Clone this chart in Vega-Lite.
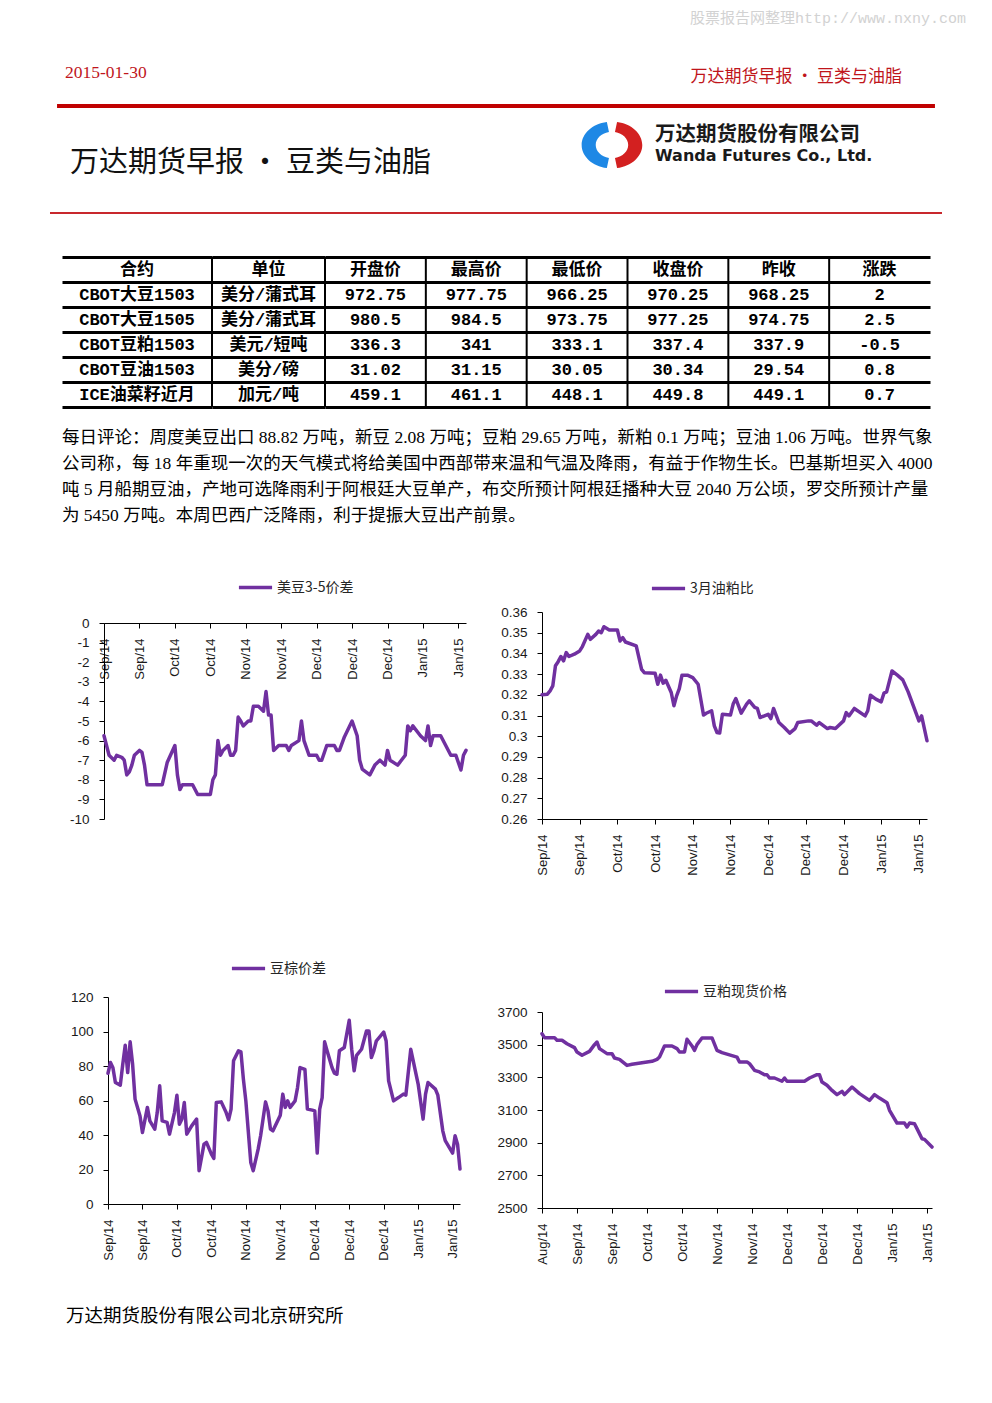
{
"$schema": "https://vega.github.io/schema/vega-lite/v6.json",
"background": "white",
"padding": 0,
"spacing": 0,
"bounds": "full",
"config": {
  "view": {"stroke": null},
  "axis": {"labelFont": "Liberation Sans", "labelColor": "#1a1a1a", "domainColor": "#000000", "tickColor": "#000000", "domainWidth": 1, "tickWidth": 1, "grid": false},
  "legend": {"labelFont": "Noto Sans CJK SC", "labelFontSize": 14, "labelColor": "#262626", "symbolType": "stroke", "symbolStrokeWidth": 3.5, "symbolSize": 1100, "labelOffset": 3, "padding": 0}
},
"resolve": {"scale": {"x": "independent", "y": "independent", "color": "independent"}, "legend": {"color": "independent"}},
"datasets": {
  "hdr": [
    {"k": "wm", "t": "股票报告网整理http://www.nxny.com"},
    {"k": "date", "t": "2015-01-30"},
    {"k": "top", "t": "万达期货早报 • 豆类与油脂"},
    {"k": "title", "t": "万达期货早报 • 豆类与油脂"},
    {"k": "cn", "t": "万达期货股份有限公司"},
    {"k": "en", "t": "Wanda Futures Co., Ltd."},
    {"k": "rule", "t": ""},
    {"k": "logo", "t": ""}
  ],
  "tbl": [
    {"r": 0, "合约": "合约", "单位": "单位", "开盘价": "开盘价", "最高价": "最高价", "最低价": "最低价", "收盘价": "收盘价", "昨收": "昨收", "涨跌": "涨跌"},
    {"r": 1, "合约": "CBOT大豆1503", "单位": "美分/蒲式耳", "开盘价": "972.75", "最高价": "977.75", "最低价": "966.25", "收盘价": "970.25", "昨收": "968.25", "涨跌": "2"},
    {"r": 2, "合约": "CBOT大豆1505", "单位": "美分/蒲式耳", "开盘价": "980.5", "最高价": "984.5", "最低价": "973.75", "收盘价": "977.25", "昨收": "974.75", "涨跌": "2.5"},
    {"r": 3, "合约": "CBOT豆粕1503", "单位": "美元/短吨", "开盘价": "336.3", "最高价": "341", "最低价": "333.1", "收盘价": "337.4", "昨收": "337.9", "涨跌": "-0.5"},
    {"r": 4, "合约": "CBOT豆油1503", "单位": "美分/磅", "开盘价": "31.02", "最高价": "31.15", "最低价": "30.05", "收盘价": "30.34", "昨收": "29.54", "涨跌": "0.8"},
    {"r": 5, "合约": "ICE油菜籽近月", "单位": "加元/吨", "开盘价": "459.1", "最高价": "461.1", "最低价": "448.1", "收盘价": "449.8", "昨收": "449.1", "涨跌": "0.7"}
  ],
  "para": [
    {"line": 1, "t": "每日评论：周度美豆出口 88.82 万吨，新豆 2.08 万吨；豆粕 29.65 万吨，新粕 0.1 万吨；豆油 1.06 万吨。世界气象"},
    {"line": 2, "t": "公司称，每 18 年重现一次的天气模式将给美国中西部带来温和气温及降雨，有益于作物生长。巴基斯坦买入 4000"},
    {"line": 3, "t": "吨 5 月船期豆油，产地可选降雨利于阿根廷大豆单产，布交所预计阿根廷播种大豆 2040 万公顷，罗交所预计产量"},
    {"line": 4, "t": "为 5450 万吨。本周巴西广泛降雨，利于提振大豆出产前景。"}
  ],
  "foot": [{"t": "万达期货股份有限公司北京研究所"}],
  "c1": [
    {"d":"2014-09-08","v":-5.75},{"d":"2014-09-10","v":-6.75},{"d":"2014-09-12","v":-7.0},{"d":"2014-09-13","v":-6.75},{"d":"2014-09-15","v":-6.85},{"d":"2014-09-16","v":-7.0},{"d":"2014-09-17","v":-7.75},{"d":"2014-09-18","v":-7.6},{"d":"2014-09-19","v":-7.25},{"d":"2014-09-20","v":-6.75},{"d":"2014-09-22","v":-6.5},{"d":"2014-09-23","v":-6.6},{"d":"2014-09-24","v":-7.25},{"d":"2014-09-25","v":-8.25},{"d":"2014-10-01","v":-8.25},{"d":"2014-10-03","v":-7.1},{"d":"2014-10-06","v":-6.25},{"d":"2014-10-07","v":-7.75},{"d":"2014-10-08","v":-8.5},{"d":"2014-10-09","v":-8.25},{"d":"2014-10-13","v":-8.25},{"d":"2014-10-15","v":-8.75},{"d":"2014-10-20","v":-8.75},{"d":"2014-10-21","v":-8.0},{"d":"2014-10-22","v":-7.75},{"d":"2014-10-23","v":-6.0},{"d":"2014-10-24","v":-6.75},{"d":"2014-10-25","v":-6.5},{"d":"2014-10-27","v":-6.25},{"d":"2014-10-28","v":-6.75},{"d":"2014-10-29","v":-6.75},{"d":"2014-10-30","v":-6.5},{"d":"2014-10-31","v":-4.8},{"d":"2014-11-01","v":-5.0},{"d":"2014-11-02","v":-5.25},{"d":"2014-11-04","v":-5.0},{"d":"2014-11-05","v":-5.0},{"d":"2014-11-06","v":-4.25},{"d":"2014-11-08","v":-4.25},{"d":"2014-11-10","v":-4.5},{"d":"2014-11-11","v":-3.5},{"d":"2014-11-12","v":-4.7},{"d":"2014-11-13","v":-4.7},{"d":"2014-11-14","v":-6.5},{"d":"2014-11-16","v":-6.25},{"d":"2014-11-19","v":-6.25},{"d":"2014-11-20","v":-6.5},{"d":"2014-11-21","v":-6.25},{"d":"2014-11-24","v":-6.0},{"d":"2014-11-25","v":-5.0},{"d":"2014-11-26","v":-6.0},{"d":"2014-11-28","v":-6.75},{"d":"2014-12-01","v":-6.75},{"d":"2014-12-02","v":-7.0},{"d":"2014-12-03","v":-7.0},{"d":"2014-12-05","v":-6.25},{"d":"2014-12-08","v":-6.25},{"d":"2014-12-09","v":-6.5},{"d":"2014-12-10","v":-6.5},{"d":"2014-12-12","v":-5.8},{"d":"2014-12-15","v":-5.0},{"d":"2014-12-17","v":-5.75},{"d":"2014-12-18","v":-7.0},{"d":"2014-12-19","v":-7.45},{"d":"2014-12-22","v":-7.75},{"d":"2014-12-24","v":-7.25},{"d":"2014-12-26","v":-7.0},{"d":"2014-12-28","v":-7.25},{"d":"2014-12-29","v":-6.5},{"d":"2014-12-30","v":-7.0},{"d":"2015-01-02","v":-7.25},{"d":"2015-01-05","v":-6.75},{"d":"2015-01-06","v":-5.25},{"d":"2015-01-07","v":-5.5},{"d":"2015-01-08","v":-5.25},{"d":"2015-01-11","v":-5.75},{"d":"2015-01-13","v":-6.0},{"d":"2015-01-14","v":-5.25},{"d":"2015-01-15","v":-6.25},{"d":"2015-01-16","v":-5.75},{"d":"2015-01-19","v":-5.75},{"d":"2015-01-21","v":-6.25},{"d":"2015-01-23","v":-6.75},{"d":"2015-01-25","v":-6.75},{"d":"2015-01-27","v":-7.5},{"d":"2015-01-28","v":-6.75},{"d":"2015-01-29","v":-6.5}
  ],
  "c2": [
    {"d":"2014-09-08","v":0.320},{"d":"2014-09-10","v":0.3203},{"d":"2014-09-11","v":0.3219},{"d":"2014-09-12","v":0.3243},{"d":"2014-09-13","v":0.334},{"d":"2014-09-14","v":0.336},{"d":"2014-09-15","v":0.3385},{"d":"2014-09-16","v":0.3364},{"d":"2014-09-17","v":0.3404},{"d":"2014-09-18","v":0.3385},{"d":"2014-09-20","v":0.3396},{"d":"2014-09-22","v":0.3412},{"d":"2014-09-23","v":0.3433},{"d":"2014-09-25","v":0.3492},{"d":"2014-09-26","v":0.3468},{"d":"2014-09-28","v":0.3492},{"d":"2014-09-29","v":0.3508},{"d":"2014-09-30","v":0.35},{"d":"2014-10-01","v":0.3529},{"d":"2014-10-03","v":0.3513},{"d":"2014-10-06","v":0.3513},{"d":"2014-10-07","v":0.346},{"d":"2014-10-08","v":0.3476},{"d":"2014-10-09","v":0.3455},{"d":"2014-10-13","v":0.3436},{"d":"2014-10-15","v":0.3323},{"d":"2014-10-16","v":0.3307},{"d":"2014-10-20","v":0.3304},{"d":"2014-10-21","v":0.3251},{"d":"2014-10-22","v":0.3295},{"d":"2014-10-23","v":0.3256},{"d":"2014-10-24","v":0.327},{"d":"2014-10-26","v":0.3211},{"d":"2014-10-27","v":0.3147},{"d":"2014-10-28","v":0.3195},{"d":"2014-10-29","v":0.323},{"d":"2014-10-30","v":0.3295},{"d":"2014-11-01","v":0.3295},{"d":"2014-11-03","v":0.3283},{"d":"2014-11-05","v":0.3251},{"d":"2014-11-07","v":0.3102},{"d":"2014-11-08","v":0.3111},{"d":"2014-11-10","v":0.3123},{"d":"2014-11-11","v":0.305},{"d":"2014-11-12","v":0.3018},{"d":"2014-11-13","v":0.3015},{"d":"2014-11-14","v":0.3106},{"d":"2014-11-17","v":0.3102},{"d":"2014-11-18","v":0.3155},{"d":"2014-11-19","v":0.3182},{"d":"2014-11-21","v":0.3111},{"d":"2014-11-23","v":0.3155},{"d":"2014-11-24","v":0.3171},{"d":"2014-11-26","v":0.3139},{"d":"2014-11-27","v":0.3134},{"d":"2014-11-28","v":0.309},{"d":"2014-12-01","v":0.3106},{"d":"2014-12-02","v":0.3085},{"d":"2014-12-03","v":0.3134},{"d":"2014-12-05","v":0.3066},{"d":"2014-12-07","v":0.3042},{"d":"2014-12-09","v":0.3015},{"d":"2014-12-11","v":0.3037},{"d":"2014-12-12","v":0.3066},{"d":"2014-12-16","v":0.3074},{"d":"2014-12-17","v":0.3074},{"d":"2014-12-19","v":0.3053},{"d":"2014-12-20","v":0.3066},{"d":"2014-12-23","v":0.3037},{"d":"2014-12-24","v":0.3042},{"d":"2014-12-26","v":0.3037},{"d":"2014-12-29","v":0.3074},{"d":"2014-12-30","v":0.3114},{"d":"2014-12-31","v":0.3098},{"d":"2015-01-02","v":0.3134},{"d":"2015-01-06","v":0.3098},{"d":"2015-01-07","v":0.3123},{"d":"2015-01-08","v":0.3198},{"d":"2015-01-10","v":0.3179},{"d":"2015-01-12","v":0.3166},{"d":"2015-01-13","v":0.3208},{"d":"2015-01-14","v":0.3214},{"d":"2015-01-16","v":0.3315},{"d":"2015-01-18","v":0.3295},{"d":"2015-01-20","v":0.3272},{"d":"2015-01-22","v":0.3214},{"d":"2015-01-26","v":0.3074},{"d":"2015-01-27","v":0.3098},{"d":"2015-01-29","v":0.2978}
  ],
  "c3": [
    {"d":"2014-09-08","v":75.8},{"d":"2014-09-09","v":82},{"d":"2014-09-10","v":79},{"d":"2014-09-11","v":70.4},{"d":"2014-09-13","v":68.9},{"d":"2014-09-14","v":81},{"d":"2014-09-15","v":92},{"d":"2014-09-16","v":76.2},{"d":"2014-09-17","v":94},{"d":"2014-09-18","v":81},{"d":"2014-09-19","v":60.8},{"d":"2014-09-21","v":51},{"d":"2014-09-22","v":41.5},{"d":"2014-09-24","v":56},{"d":"2014-09-25","v":48.2},{"d":"2014-09-27","v":43.4},{"d":"2014-09-28","v":53},{"d":"2014-09-29","v":68.5},{"d":"2014-09-30","v":48.2},{"d":"2014-10-02","v":47.3},{"d":"2014-10-03","v":40.5},{"d":"2014-10-05","v":53},{"d":"2014-10-06","v":63},{"d":"2014-10-07","v":46.3},{"d":"2014-10-08","v":49.2},{"d":"2014-10-09","v":58.8},{"d":"2014-10-10","v":40.5},{"d":"2014-10-12","v":45.3},{"d":"2014-10-14","v":49.2},{"d":"2014-10-15","v":19.3},{"d":"2014-10-17","v":34.7},{"d":"2014-10-18","v":35.7},{"d":"2014-10-20","v":28.9},{"d":"2014-10-21","v":26.4},{"d":"2014-10-22","v":58.8},{"d":"2014-10-24","v":59.2},{"d":"2014-10-26","v":53},{"d":"2014-10-27","v":48.8},{"d":"2014-10-28","v":55},{"d":"2014-10-29","v":83},{"d":"2014-10-31","v":88.8},{"d":"2014-11-01","v":88.2},{"d":"2014-11-02","v":72.4},{"d":"2014-11-03","v":59.8},{"d":"2014-11-05","v":24.1},{"d":"2014-11-06","v":19.3},{"d":"2014-11-08","v":31.8},{"d":"2014-11-09","v":39.6},{"d":"2014-11-11","v":59.2},{"d":"2014-11-12","v":54},{"d":"2014-11-13","v":43.4},{"d":"2014-11-14","v":42.4},{"d":"2014-11-17","v":51.5},{"d":"2014-11-18","v":63.7},{"d":"2014-11-19","v":56},{"d":"2014-11-20","v":59.8},{"d":"2014-11-21","v":56},{"d":"2014-11-23","v":59.8},{"d":"2014-11-24","v":67.5},{"d":"2014-11-25","v":79.1},{"d":"2014-11-27","v":78.1},{"d":"2014-11-28","v":55},{"d":"2014-11-30","v":54.4},{"d":"2014-12-01","v":54},{"d":"2014-12-02","v":29.5},{"d":"2014-12-03","v":55},{"d":"2014-12-04","v":61.7},{"d":"2014-12-05","v":94},{"d":"2014-12-06","v":88.8},{"d":"2014-12-08","v":79.1},{"d":"2014-12-09","v":75.8},{"d":"2014-12-10","v":75.2},{"d":"2014-12-11","v":88.8},{"d":"2014-12-13","v":90.7},{"d":"2014-12-15","v":106.5},{"d":"2014-12-16","v":89.7},{"d":"2014-12-17","v":77.2},{"d":"2014-12-18","v":86.2},{"d":"2014-12-20","v":89.7},{"d":"2014-12-22","v":100.3},{"d":"2014-12-23","v":100.3},{"d":"2014-12-24","v":84.9},{"d":"2014-12-25","v":88.8},{"d":"2014-12-26","v":94.5},{"d":"2014-12-29","v":99.7},{"d":"2014-12-30","v":94.5},{"d":"2014-12-31","v":71.4},{"d":"2015-01-02","v":59.8},{"d":"2015-01-04","v":61.7},{"d":"2015-01-06","v":63.7},{"d":"2015-01-07","v":63.1},{"d":"2015-01-09","v":89.7},{"d":"2015-01-12","v":69.5},{"d":"2015-01-14","v":49.2},{"d":"2015-01-15","v":63.7},{"d":"2015-01-16","v":70.4},{"d":"2015-01-19","v":66.6},{"d":"2015-01-20","v":63.1},{"d":"2015-01-22","v":42.4},{"d":"2015-01-23","v":36.7},{"d":"2015-01-26","v":29.5},{"d":"2015-01-27","v":39.6},{"d":"2015-01-28","v":34.7},{"d":"2015-01-29","v":20.3}
  ],
  "c4": [
    {"d":"2014-08-25","v":3567},{"d":"2014-08-26","v":3543},{"d":"2014-08-30","v":3543},{"d":"2014-08-31","v":3527},{"d":"2014-09-02","v":3527},{"d":"2014-09-04","v":3506},{"d":"2014-09-07","v":3482},{"d":"2014-09-08","v":3455},{"d":"2014-09-10","v":3435},{"d":"2014-09-13","v":3459},{"d":"2014-09-15","v":3500},{"d":"2014-09-16","v":3516},{"d":"2014-09-17","v":3476},{"d":"2014-09-20","v":3445},{"d":"2014-09-22","v":3445},{"d":"2014-09-23","v":3418},{"d":"2014-09-25","v":3410},{"d":"2014-09-28","v":3373},{"d":"2014-09-30","v":3380},{"d":"2014-10-06","v":3394},{"d":"2014-10-08","v":3398},{"d":"2014-10-10","v":3410},{"d":"2014-10-11","v":3424},{"d":"2014-10-13","v":3492},{"d":"2014-10-16","v":3492},{"d":"2014-10-18","v":3476},{"d":"2014-10-19","v":3455},{"d":"2014-10-21","v":3455},{"d":"2014-10-22","v":3533},{"d":"2014-10-24","v":3492},{"d":"2014-10-25","v":3465},{"d":"2014-10-26","v":3500},{"d":"2014-10-28","v":3541},{"d":"2014-11-01","v":3541},{"d":"2014-11-03","v":3465},{"d":"2014-11-05","v":3451},{"d":"2014-11-11","v":3424},{"d":"2014-11-12","v":3394},{"d":"2014-11-15","v":3394},{"d":"2014-11-16","v":3384},{"d":"2014-11-18","v":3343},{"d":"2014-11-20","v":3333},{"d":"2014-11-22","v":3316},{"d":"2014-11-23","v":3316},{"d":"2014-11-24","v":3296},{"d":"2014-11-26","v":3296},{"d":"2014-11-29","v":3276},{"d":"2014-11-30","v":3296},{"d":"2014-12-01","v":3276},{"d":"2014-12-08","v":3276},{"d":"2014-12-10","v":3296},{"d":"2014-12-13","v":3316},{"d":"2014-12-14","v":3316},{"d":"2014-12-15","v":3271},{"d":"2014-12-17","v":3251},{"d":"2014-12-19","v":3220},{"d":"2014-12-21","v":3194},{"d":"2014-12-23","v":3214},{"d":"2014-12-24","v":3194},{"d":"2014-12-27","v":3241},{"d":"2014-12-30","v":3200},{"d":"2015-01-03","v":3159},{"d":"2015-01-05","v":3194},{"d":"2015-01-07","v":3173},{"d":"2015-01-10","v":3145},{"d":"2015-01-11","v":3098},{"d":"2015-01-14","v":3020},{"d":"2015-01-17","v":3020},{"d":"2015-01-18","v":2996},{"d":"2015-01-19","v":3020},{"d":"2015-01-21","v":3016},{"d":"2015-01-22","v":2986},{"d":"2015-01-24","v":2924},{"d":"2015-01-25","v":2920},{"d":"2015-01-28","v":2873}
  ]
},
"vconcat": [
  {
    "width": 992, "height": 256,
    "data": {"name": "hdr"},
    "layer": [
      {"transform": [{"filter": "datum.k === 'wm'"}],
       "mark": {"type": "text", "align": "left", "baseline": "middle", "font": "Liberation Mono, Noto Sans CJK SC", "fontSize": 15, "color": "#d2d2d2"},
       "encoding": {"x": {"datum": 0.6956, "type": "quantitative", "scale": {"domain": [0, 1]}, "axis": null}, "y": {"datum": 0.0703, "type": "quantitative", "scale": {"domain": [0, 1], "reverse": true}, "axis": null}, "text": {"field": "t"}}},
      {"transform": [{"filter": "datum.k === 'date'"}],
       "mark": {"type": "text", "align": "left", "baseline": "middle", "font": "Liberation Serif", "fontSize": 17.5, "color": "#C0151B"},
       "encoding": {"x": {"datum": 0.0655, "type": "quantitative", "scale": {"domain": [0, 1]}, "axis": null}, "y": {"datum": 0.2852, "type": "quantitative", "scale": {"domain": [0, 1], "reverse": true}, "axis": null}, "text": {"field": "t"}}},
      {"transform": [{"filter": "datum.k === 'top'"}],
       "mark": {"type": "text", "align": "right", "baseline": "middle", "font": "Noto Sans CJK SC", "fontSize": 17, "color": "#C0151B"},
       "encoding": {"x": {"datum": 0.9093, "type": "quantitative", "scale": {"domain": [0, 1]}, "axis": null}, "y": {"datum": 0.3008, "type": "quantitative", "scale": {"domain": [0, 1], "reverse": true}, "axis": null}, "text": {"field": "t"}}},
      {"transform": [{"filter": "datum.k === 'rule'"}],
       "mark": {"type": "rule", "color": "#C00000", "strokeWidth": 4},
       "encoding": {"x": {"datum": 0.0575, "type": "quantitative", "scale": {"domain": [0, 1]}, "axis": null}, "x2": {"datum": 0.9425}, "y": {"datum": 0.4141, "type": "quantitative", "scale": {"domain": [0, 1], "reverse": true}, "axis": null}}},
      {"transform": [{"filter": "datum.k === 'title'"}],
       "mark": {"type": "text", "align": "left", "baseline": "middle", "font": "Noto Sans CJK SC", "fontSize": 29, "color": "#111111"},
       "encoding": {"x": {"datum": 0.0706, "type": "quantitative", "scale": {"domain": [0, 1]}, "axis": null}, "y": {"datum": 0.637, "type": "quantitative", "scale": {"domain": [0, 1], "reverse": true}, "axis": null}, "text": {"field": "t"}}},
      {"transform": [{"filter": "datum.k === 'logo'"}],
       "mark": {"type": "point", "shape": "M -0.17 -0.77 A 1 0.78 0 0 0 -0.17 0.77 L -0.1 0.43 A 0.56 0.44 0 0 1 -0.1 -0.43 Z", "filled": true, "color": "#1E88E5", "opacity": 1, "size": 3600},
       "encoding": {"x": {"datum": 0.6169, "type": "quantitative", "scale": {"domain": [0, 1]}, "axis": null}, "y": {"datum": 0.5664, "type": "quantitative", "scale": {"domain": [0, 1], "reverse": true}, "axis": null}}},
      {"transform": [{"filter": "datum.k === 'logo'"}],
       "mark": {"type": "point", "shape": "M 0.17 -0.77 A 1 0.78 0 0 1 0.17 0.77 L 0.1 0.43 A 0.56 0.44 0 0 0 0.1 -0.43 Z", "filled": true, "color": "#D32020", "opacity": 1, "size": 3600},
       "encoding": {"x": {"datum": 0.6169, "type": "quantitative", "scale": {"domain": [0, 1]}, "axis": null}, "y": {"datum": 0.5664, "type": "quantitative", "scale": {"domain": [0, 1], "reverse": true}, "axis": null}}},
      {"transform": [{"filter": "datum.k === 'cn'"}],
       "mark": {"type": "text", "align": "left", "baseline": "middle", "font": "Noto Sans CJK SC", "fontSize": 20.5, "fontWeight": "bold", "color": "#1a1a1a"},
       "encoding": {"x": {"datum": 0.6603, "type": "quantitative", "scale": {"domain": [0, 1]}, "axis": null}, "y": {"datum": 0.527, "type": "quantitative", "scale": {"domain": [0, 1], "reverse": true}, "axis": null}, "text": {"field": "t"}}},
      {"transform": [{"filter": "datum.k === 'en'"}],
       "mark": {"type": "text", "align": "left", "baseline": "middle", "font": "DejaVu Sans", "fontSize": 16, "fontWeight": "bold", "color": "#1a1a1a"},
       "encoding": {"x": {"datum": 0.6603, "type": "quantitative", "scale": {"domain": [0, 1]}, "axis": null}, "y": {"datum": 0.609, "type": "quantitative", "scale": {"domain": [0, 1], "reverse": true}, "axis": null}, "text": {"field": "t"}}},
      {"transform": [{"filter": "datum.k === 'rule'"}],
       "mark": {"type": "rule", "color": "#C8282D", "strokeWidth": 2},
       "encoding": {"x": {"datum": 0.0504, "type": "quantitative", "scale": {"domain": [0, 1]}, "axis": null}, "x2": {"datum": 0.9496}, "y": {"datum": 0.832, "type": "quantitative", "scale": {"domain": [0, 1], "reverse": true}, "axis": null}}}
    ]
  },
  {
    "hconcat": [
      {"width": 62, "height": 150, "data": {"values": []}, "mark": "point"},
      {
        "width": 150, "height": 150,
        "data": {"name": "tbl"},
        "transform": [{"fold": ["合约", "单位", "开盘价", "最高价", "最低价", "收盘价", "昨收", "涨跌"], "as": ["c", "v"]}, {"filter": {"field": "c", "equal": "合约"}}],
        "mark": {"type": "text", "font": "Liberation Mono, Noto Sans CJK SC", "fontSize": 17, "fontWeight": "bold", "color": "#000000"},
        "encoding": {
          "x": {"field": "c", "type": "nominal", "scale": {"type": "band", "paddingInner": 0, "paddingOuter": 0}, "axis": null},
          "y": {"field": "r", "type": "ordinal", "scale": {"type": "band", "paddingInner": 0, "paddingOuter": 0}, "axis": {"grid": true, "tickBand": "extent", "gridColor": "#000000", "gridWidth": 3, "gridOpacity": 1, "labels": false, "ticks": false, "domain": false, "title": null}},
          "text": {"field": "v"}
        }
      },
      {
        "width": 113, "height": 150,
        "data": {"name": "tbl"},
        "transform": [{"fold": ["合约", "单位", "开盘价", "最高价", "最低价", "收盘价", "昨收", "涨跌"], "as": ["c", "v"]}, {"filter": {"field": "c", "equal": "单位"}}],
        "layer": [
          {"mark": {"type": "text", "font": "Liberation Mono, Noto Sans CJK SC", "fontSize": 17, "fontWeight": "bold", "color": "#000000"},
           "encoding": {
             "x": {"field": "c", "type": "nominal", "scale": {"type": "band", "paddingInner": 0, "paddingOuter": 0}, "axis": null},
             "y": {"field": "r", "type": "ordinal", "scale": {"type": "band", "paddingInner": 0, "paddingOuter": 0}, "axis": {"grid": true, "tickBand": "extent", "gridColor": "#000000", "gridWidth": 3, "gridOpacity": 1, "labels": false, "ticks": false, "domain": false, "title": null}},
             "text": {"field": "v"}
           }},
          {"transform": [{"filter": {"field": "r", "equal": 0}}],
           "mark": {"type": "rule", "color": "#000000", "strokeWidth": 2},
           "encoding": {"x": {"field": "c", "type": "nominal", "bandPosition": 0, "scale": {"type": "band", "paddingInner": 0, "paddingOuter": 0}, "axis": null}}}
        ]
      },
      {
        "width": 605, "height": 150,
        "data": {"name": "tbl"},
        "transform": [{"fold": ["合约", "单位", "开盘价", "最高价", "最低价", "收盘价", "昨收", "涨跌"], "as": ["c", "v"]}, {"filter": {"field": "c", "oneOf": ["开盘价", "最高价", "最低价", "收盘价", "昨收", "涨跌"]}}],
        "layer": [
          {"mark": {"type": "text", "font": "Liberation Mono, Noto Sans CJK SC", "fontSize": 17, "fontWeight": "bold", "color": "#000000"},
           "encoding": {
             "x": {"field": "c", "type": "nominal", "scale": {"type": "band", "domain": ["开盘价", "最高价", "最低价", "收盘价", "昨收", "涨跌"], "paddingInner": 0, "paddingOuter": 0}, "axis": null},
             "y": {"field": "r", "type": "ordinal", "scale": {"type": "band", "paddingInner": 0, "paddingOuter": 0}, "axis": {"grid": true, "tickBand": "extent", "gridColor": "#000000", "gridWidth": 3, "gridOpacity": 1, "labels": false, "ticks": false, "domain": false, "title": null}},
             "text": {"field": "v"}
           }},
          {"transform": [{"filter": {"field": "r", "equal": 0}}],
           "mark": {"type": "rule", "color": "#000000", "strokeWidth": 2},
           "encoding": {"x": {"field": "c", "type": "nominal", "bandPosition": 0, "scale": {"type": "band", "domain": ["开盘价", "最高价", "最低价", "收盘价", "昨收", "涨跌"], "paddingInner": 0, "paddingOuter": 0}, "axis": null}}}
        ]
      }
    ],
    "spacing": 0,
    "bounds": "flush",
    "resolve": {"scale": {"x": "independent", "y": "independent"}}
  },
  {"width": 1, "height": 17, "data": {"values": []}, "mark": "point"},
  {
    "width": 992, "height": 104,
    "data": {"name": "para"},
    "mark": {"type": "text", "align": "left", "baseline": "middle", "font": "Liberation Serif, Noto Sans CJK SC", "fontSize": 17.5, "color": "#000000"},
    "encoding": {
      "x": {"datum": 0.0625, "type": "quantitative", "scale": {"domain": [0, 1]}, "axis": null},
      "y": {"field": "line", "type": "ordinal", "scale": {"type": "band", "paddingInner": 0, "paddingOuter": 0}, "axis": null},
      "text": {"field": "t"}
    }
  },
  {"width": 1, "height": 33, "data": {"values": []}, "mark": "point"},
  {
    "hconcat": [
      {"width": 104, "height": 340, "data": {"values": []}, "mark": "point"},
      {
        "width": 362, "height": 257,
        "data": {"name": "c1"},
        "mark": {"type": "line", "strokeWidth": 3.5, "strokeJoin": "round", "strokeCap": "round"},
        "encoding": {
          "x": {"field": "d", "type": "temporal",
                "scale": {"type": "utc", "domain": [{"year": 2014, "month": 9, "date": 8, "utc": true}, {"year": 2015, "month": 1, "date": 29, "utc": true}]},
                "axis": {"orient": "bottom", "offset": -196, "values": [{"year":2014,"month":9,"date":8,"utc":true},{"year":2014,"month":9,"date":22,"utc":true},{"year":2014,"month":10,"date":6,"utc":true},{"year":2014,"month":10,"date":20,"utc":true},{"year":2014,"month":11,"date":3,"utc":true},{"year":2014,"month":11,"date":17,"utc":true},{"year":2014,"month":12,"date":1,"utc":true},{"year":2014,"month":12,"date":15,"utc":true},{"year":2014,"month":12,"date":29,"utc":true},{"year":2015,"month":1,"date":12,"utc":true},{"year":2015,"month":1,"date":26,"utc":true}],
                         "labelExpr": "utcFormat(datum.value, '%b/%y')", "labelAngle": -90, "labelFontSize": 13, "tickSize": 5, "labelPadding": 10, "labelOverlap": false, "labelFlush": false, "labelBound": false, "title": null, "grid": false}},
          "y": {"field": "v", "type": "quantitative",
                "scale": {"domain": [-10, 0], "range": [257, 61], "nice": false, "zero": false},
                "axis": {"values": [-10, -9, -8, -7, -6, -5, -4, -3, -2, -1, 0], "labelExpr": "'' + datum.value", "labelFontSize": 13.5, "tickSize": 5, "labelPadding": 10, "title": null, "grid": false}},
          "color": {"datum": "美豆3-5价差", "type": "nominal", "scale": {"range": ["#7030A0"]},
                    "legend": {"orient": "none", "legendX": 133, "legendY": 7, "title": null}}
        }
      },
      {"width": 76, "height": 340, "data": {"values": []}, "mark": "point"},
      {
        "width": 385, "height": 257,
        "data": {"name": "c2"},
        "mark": {"type": "line", "strokeWidth": 3.5, "strokeJoin": "round", "strokeCap": "round"},
        "encoding": {
          "x": {"field": "d", "type": "temporal",
                "scale": {"type": "utc", "domain": [{"year": 2014, "month": 9, "date": 8, "utc": true}, {"year": 2015, "month": 1, "date": 29, "utc": true}]},
                "axis": {"values": [{"year":2014,"month":9,"date":8,"utc":true},{"year":2014,"month":9,"date":22,"utc":true},{"year":2014,"month":10,"date":6,"utc":true},{"year":2014,"month":10,"date":20,"utc":true},{"year":2014,"month":11,"date":3,"utc":true},{"year":2014,"month":11,"date":17,"utc":true},{"year":2014,"month":12,"date":1,"utc":true},{"year":2014,"month":12,"date":15,"utc":true},{"year":2014,"month":12,"date":29,"utc":true},{"year":2015,"month":1,"date":12,"utc":true},{"year":2015,"month":1,"date":26,"utc":true}],
                         "labelExpr": "utcFormat(datum.value, '%b/%y')", "labelAngle": -90, "labelFontSize": 13, "tickSize": 5, "labelPadding": 10, "labelOverlap": false, "labelFlush": false, "labelBound": false, "title": null, "grid": false}},
          "y": {"field": "v", "type": "quantitative",
                "scale": {"domain": [0.26, 0.36], "range": [257, 50], "nice": false, "zero": false},
                "axis": {"values": [0.26, 0.27, 0.28, 0.29, 0.3, 0.31, 0.32, 0.33, 0.34, 0.35, 0.36], "format": ".2~f", "labelFontSize": 13.5, "tickSize": 5, "labelPadding": 10, "title": null, "grid": false}},
          "color": {"datum": "3月油粕比", "type": "nominal", "scale": {"range": ["#7030A0"]},
                    "legend": {"orient": "none", "legendX": 108, "legendY": 8, "title": null}}
        }
      }
    ],
    "spacing": 0,
    "bounds": "flush",
    "resolve": {"scale": {"x": "independent", "y": "independent", "color": "independent"}, "legend": {"color": "independent"}}
  },
  {"width": 1, "height": 45, "data": {"values": []}, "mark": "point"},
  {
    "hconcat": [
      {"width": 108, "height": 340, "data": {"values": []}, "mark": "point"},
      {
        "width": 352, "height": 257,
        "data": {"name": "c3"},
        "mark": {"type": "line", "strokeWidth": 3.5, "strokeJoin": "round", "strokeCap": "round"},
        "encoding": {
          "x": {"field": "d", "type": "temporal",
                "scale": {"type": "utc", "domain": [{"year": 2014, "month": 9, "date": 8, "utc": true}, {"year": 2015, "month": 1, "date": 29, "utc": true}]},
                "axis": {"values": [{"year":2014,"month":9,"date":8,"utc":true},{"year":2014,"month":9,"date":22,"utc":true},{"year":2014,"month":10,"date":6,"utc":true},{"year":2014,"month":10,"date":20,"utc":true},{"year":2014,"month":11,"date":3,"utc":true},{"year":2014,"month":11,"date":17,"utc":true},{"year":2014,"month":12,"date":1,"utc":true},{"year":2014,"month":12,"date":15,"utc":true},{"year":2014,"month":12,"date":29,"utc":true},{"year":2015,"month":1,"date":12,"utc":true},{"year":2015,"month":1,"date":26,"utc":true}],
                         "labelExpr": "utcFormat(datum.value, '%b/%y')", "labelAngle": -90, "labelFontSize": 13, "tickSize": 5, "labelPadding": 10, "labelOverlap": false, "labelFlush": false, "labelBound": false, "title": null, "grid": false}},
          "y": {"field": "v", "type": "quantitative",
                "scale": {"domain": [0, 120], "range": [257, 50], "nice": false, "zero": false},
                "axis": {"values": [0, 20, 40, 60, 80, 100, 120], "format": "d", "labelFontSize": 13.5, "tickSize": 5, "labelPadding": 10, "title": null, "grid": false}},
          "color": {"datum": "豆棕价差", "type": "nominal", "scale": {"range": ["#7030A0"]},
                    "legend": {"orient": "none", "legendX": 122, "legendY": 3, "title": null}}
        }
      },
      {"width": 82, "height": 340, "data": {"values": []}, "mark": "point"},
      {
        "width": 390, "height": 261,
        "data": {"name": "c4"},
        "mark": {"type": "line", "strokeWidth": 3.5, "strokeJoin": "round", "strokeCap": "round"},
        "encoding": {
          "x": {"field": "d", "type": "temporal",
                "scale": {"type": "utc", "domain": [{"year": 2014, "month": 8, "date": 25, "utc": true}, {"year": 2015, "month": 1, "date": 28, "utc": true}]},
                "axis": {"values": [{"year":2014,"month":8,"date":25,"utc":true},{"year":2014,"month":9,"date":8,"utc":true},{"year":2014,"month":9,"date":22,"utc":true},{"year":2014,"month":10,"date":6,"utc":true},{"year":2014,"month":10,"date":20,"utc":true},{"year":2014,"month":11,"date":3,"utc":true},{"year":2014,"month":11,"date":17,"utc":true},{"year":2014,"month":12,"date":1,"utc":true},{"year":2014,"month":12,"date":15,"utc":true},{"year":2014,"month":12,"date":29,"utc":true},{"year":2015,"month":1,"date":12,"utc":true},{"year":2015,"month":1,"date":26,"utc":true}],
                         "labelExpr": "utcFormat(datum.value, '%b/%y')", "labelAngle": -90, "labelFontSize": 13, "tickSize": 5, "labelPadding": 10, "labelOverlap": false, "labelFlush": false, "labelBound": false, "title": null, "grid": false}},
          "y": {"field": "v", "type": "quantitative",
                "scale": {"domain": [2500, 3700], "range": [261, 65], "nice": false, "zero": false},
                "axis": {"values": [2500, 2700, 2900, 3100, 3300, 3500, 3700], "format": "d", "labelFontSize": 13.5, "tickSize": 5, "labelPadding": 10, "title": null, "grid": false}},
          "color": {"datum": "豆粕现货价格", "type": "nominal", "scale": {"range": ["#7030A0"]},
                    "legend": {"orient": "none", "legendX": 121, "legendY": 26, "title": null}}
        }
      }
    ],
    "spacing": 0,
    "bounds": "flush",
    "resolve": {"scale": {"x": "independent", "y": "independent", "color": "independent"}, "legend": {"color": "independent"}}
  },
  {
    "width": 992, "height": 115,
    "data": {"name": "foot"},
    "mark": {"type": "text", "align": "left", "baseline": "middle", "font": "Noto Sans CJK SC", "fontSize": 18.5, "color": "#000000"},
    "encoding": {
      "x": {"datum": 0.0665, "type": "quantitative", "scale": {"domain": [0, 1]}, "axis": null},
      "y": {"datum": 0.255, "type": "quantitative", "scale": {"domain": [0, 1], "reverse": true}, "axis": null},
      "text": {"field": "t"}
    }
  }
]
}
